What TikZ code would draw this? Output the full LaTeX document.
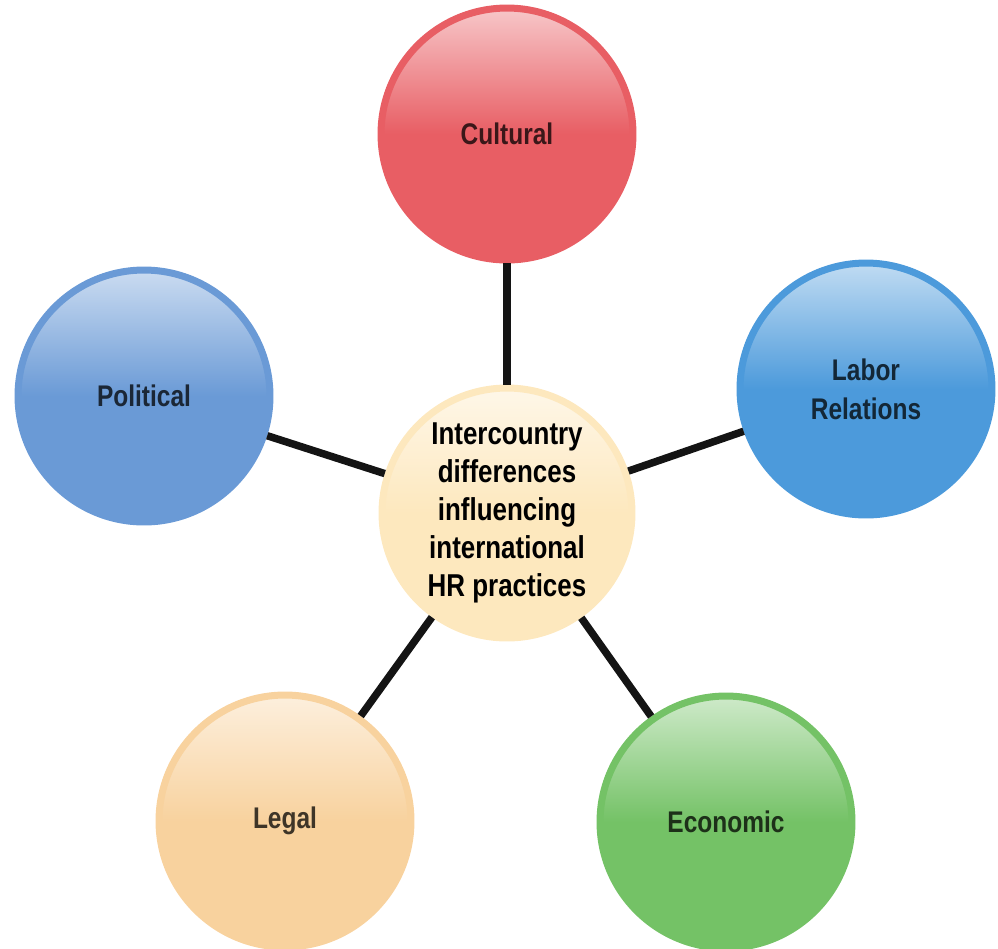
\documentclass[tikz,border=0pt]{standalone}
\usepackage{fontspec}
\setmainfont{Liberation Sans}[FakeStretch=0.82]
\usepackage{tikz}

\definecolor{culturalred}{HTML}{E85E64}
\definecolor{politicalblue}{HTML}{6A9AD6}
\definecolor{laborblue}{HTML}{4C9ADB}
\definecolor{legalorange}{HTML}{F8D29E}
\definecolor{economicgreen}{HTML}{74C266}
\definecolor{hrcream}{HTML}{FDE8BE}

\begin{document}
\begin{tikzpicture}[x=0.02cm,y=-0.02cm,
  ball/.style={circle,minimum size=5.04cm,inner sep=0pt,line width=0.14cm,
    draw=#1,top color=#1!35!white,bottom color=#1,middle color=#1,
    text=#1!25!black,align=center,font=\bfseries\fontsize{17}{22}\selectfont},
  link/.style={line width=0.15cm,black!92}]
  \useasboundingbox (0,0) rectangle (998,948);
  \node[ball=hrcream,text=black,minimum size=5.0cm,
    font=\bfseries\fontsize{18}{21.6}\selectfont] (hr) at (507,513)
    {Intercountry\\differences\\influencing\\international\\HR practices};
  \node[ball=culturalred] (cultural) at (507,134) {Cultural};
  \node[ball=politicalblue] (political) at (144,396) {Political};
  \node[ball=laborblue] (labor) at (866,389) {Labor\\Relations};
  \node[ball=legalorange] (legal) at (285,821) {Legal};
  \node[ball=economicgreen] (economic) at (726,822) {Economic};
  \draw[link] (hr) -- (cultural);
  \draw[link] (hr) -- (political);
  \draw[link] (hr) -- (labor);
  \draw[link] (hr) -- (legal);
  \draw[link] (hr) -- (economic);
\end{tikzpicture}
\end{document}
